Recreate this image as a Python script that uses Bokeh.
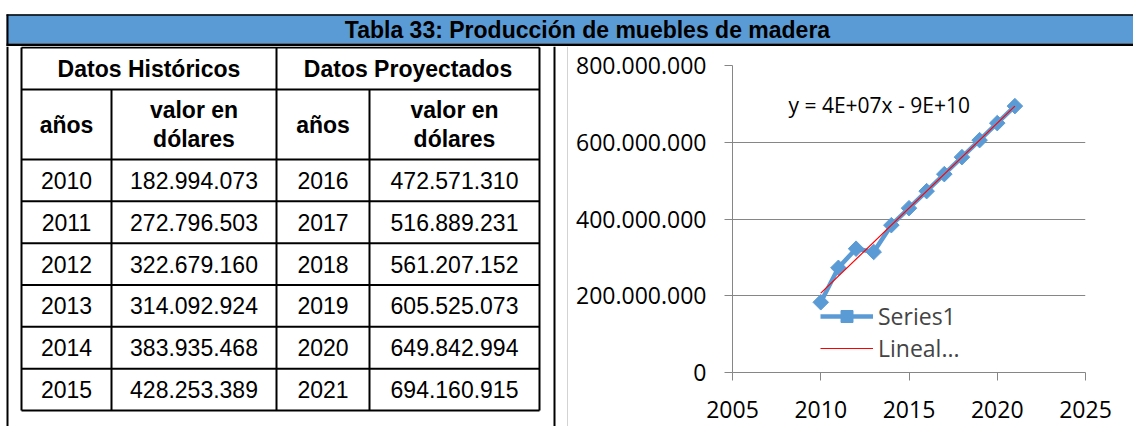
import numpy as np
from bokeh.plotting import figure
from bokeh.layouts import column, row
from bokeh.models import Range1d, FixedTicker, Legend, LegendItem, Label
from bokeh.embed import file_html
from bokeh.resources import INLINE
from bokeh.core.properties import value

# ---------------- data ----------------
TITLE = "Tabla 33: Producción de muebles de madera"
HEADER_GROUPS = ["Datos Históricos", "Datos Proyectados"]
HEADER_COLS = ["años", "valor en\ndólares", "años", "valor en\ndólares"]
HIST_YEARS = [2010, 2011, 2012, 2013, 2014, 2015]
HIST_VALUES = [182994073, 272796503, 322679160, 314092924, 383935468, 428253389]
PROJ_YEARS = [2016, 2017, 2018, 2019, 2020, 2021]
PROJ_VALUES = [472571310, 516889231, 561207152, 605525073, 649842994, 694160915]
X_TICKS = [2005, 2010, 2015, 2020, 2025]
Y_TICKS = [0, 200000000, 400000000, 600000000, 800000000]
Y_TICK_LABELS = ["0", "200.000.000", "400.000.000", "600.000.000", "800.000.000"]
SERIES_NAME = "Series1"
TREND_NAME = "Lineal..."
EQUATION = "y = 4E+07x - 9E+10"

# ---------------- layout / style ----------------
PAGE = 0          # Bokeh's page template has no body margin
W, H = 1133, 426
HEAD_BOTTOM = 46
TABLE_FIG_RIGHT = 568
COL_EDGES = [21, 111, 276, 369, 539]
ROW_TOP, ROW_H1, ROW_H2, ROW_BOTTOM = 47, 89, 159, 410
BLUE = "#5B9BD5"
GRAY = "#868686"
TABLE_FONT = value("Liberation Sans")
FS = "23px"


def fmt(v):
    return f"{v:,}".replace(",", ".")


def no_align(p):
    try:
        p.frame_align = False
    except Exception:
        pass
    return p


def blank(p):
    p.xgrid.visible = False
    p.ygrid.visible = False
    p.background_fill_color = "white"
    p.border_fill_color = "white"
    return no_align(p)


# ---------------- header bar ----------------
hf = blank(figure(width=W - PAGE, height=HEAD_BOTTOM - PAGE,
                  x_range=Range1d(PAGE, W), y_range=Range1d(HEAD_BOTTOM, PAGE),
                  toolbar_location=None, output_backend="svg", min_border=0,
                  x_axis_type=None, y_axis_type=None, outline_line_color=None))
hf.quad(left=6, right=W + 10, top=14, bottom=43, fill_color=BLUE, line_color=None)
hf.quad(left=6, right=W + 10, top=43, bottom=46, fill_color="black", line_color=None)
hf.segment(x0=6, y0=14.5, x1=W + 10, y1=14.5, line_color="black", line_width=1.5)
hf.segment(x0=7, y0=14, x1=7, y1=46, line_color="black", line_width=2)
hf.text(x=[587], y=[29], text=[TITLE], text_font=TABLE_FONT, text_font_style="bold",
        text_font_size=FS, text_align="center", text_baseline="middle", text_color="black")

# ---------------- table ----------------
tf = blank(figure(width=TABLE_FIG_RIGHT - PAGE, height=H - HEAD_BOTTOM,
                  x_range=Range1d(PAGE, TABLE_FIG_RIGHT), y_range=Range1d(H, HEAD_BOTTOM),
                  toolbar_location=None, output_backend="svg", min_border=0,
                  x_axis_type=None, y_axis_type=None, outline_line_color=None))
n_rows = len(HIST_YEARS)
row_h = (ROW_BOTTOM - ROW_H2) / n_rows
row_edges = [ROW_TOP, ROW_H1, ROW_H2] + [ROW_H2 + (i + 1) * row_h for i in range(n_rows)]
tf.segment(x0=[COL_EDGES[0]] * len(row_edges), x1=[COL_EDGES[-1]] * len(row_edges),
           y0=row_edges, y1=row_edges, line_color="black", line_width=2)
full_cols = [COL_EDGES[0], COL_EDGES[2], COL_EDGES[4]]
tf.segment(x0=full_cols, x1=full_cols, y0=[ROW_TOP] * 3, y1=[ROW_BOTTOM] * 3,
           line_color="black", line_width=2)
part_cols = [COL_EDGES[1], COL_EDGES[3]]
tf.segment(x0=part_cols, x1=part_cols, y0=[ROW_H1] * 2, y1=[ROW_BOTTOM] * 2,
           line_color="black", line_width=2)
# outer frame lines
tf.segment(x0=[7, 554], x1=[7, 554], y0=[HEAD_BOTTOM] * 2, y1=[H] * 2,
           line_color="black", line_width=2)
tf.segment(x0=[567.5], x1=[567.5], y0=[HEAD_BOTTOM], y1=[H], line_color="#A6A6A6", line_width=1)

col_c = [(COL_EDGES[i] + COL_EDGES[i + 1]) / 2 for i in range(4)]
tf.text(x=[(COL_EDGES[0] + COL_EDGES[2]) / 2, (COL_EDGES[2] + COL_EDGES[4]) / 2],
        y=[(ROW_TOP + ROW_H1) / 2] * 2, text=HEADER_GROUPS, text_font=TABLE_FONT,
        text_font_style="bold", text_font_size=FS, text_align="center", text_baseline="middle")
tf.text(x=col_c, y=[(ROW_H1 + ROW_H2) / 2] * 4, text=HEADER_COLS, text_font=TABLE_FONT,
        text_font_style="bold", text_font_size=FS, text_align="center", text_baseline="middle",
        text_line_height=1.15)
row_c = [(row_edges[i + 2] + row_edges[i + 3]) / 2 for i in range(n_rows)]
for ci, col in enumerate([[str(y) for y in HIST_YEARS], [fmt(v) for v in HIST_VALUES],
                          [str(y) for y in PROJ_YEARS], [fmt(v) for v in PROJ_VALUES]]):
    tf.text(x=[col_c[ci]] * n_rows, y=row_c, text=col, text_font=TABLE_FONT,
            text_font_size=FS, text_align="center", text_baseline="middle", text_color="black")

# ---------------- chart ----------------
cf = figure(width=W - TABLE_FIG_RIGHT, height=H - HEAD_BOTTOM,
            x_range=Range1d(X_TICKS[0], X_TICKS[-1]), y_range=Range1d(Y_TICKS[0], Y_TICKS[-1]),
            toolbar_location=None, output_backend="svg",
            min_border_left=732 - TABLE_FIG_RIGHT, min_border_right=W - 1085,
            min_border_top=65 - HEAD_BOTTOM, min_border_bottom=H - 372,
            outline_line_color=None)
no_align(cf)
cf.background_fill_color = "white"
cf.border_fill_color = "white"
cf.xgrid.visible = False
cf.ygrid.grid_line_color = GRAY
cf.ygrid.ticker = FixedTicker(ticks=Y_TICKS)
cf.xaxis.ticker = FixedTicker(ticks=X_TICKS)
cf.yaxis.ticker = FixedTicker(ticks=Y_TICKS)
cf.yaxis.major_label_overrides = {t: l for t, l in zip(Y_TICKS, Y_TICK_LABELS)}
for ax in (cf.xaxis, cf.yaxis):
    ax.axis_line_color = GRAY
    ax.major_tick_line_color = GRAY
    ax.major_tick_out = 8
    ax.major_tick_in = 0
    ax.minor_tick_line_color = None
    ax.major_label_text_font = "Open Sans"
    ax.major_label_text_font_size = FS
    ax.major_label_text_color = "black"
cf.yaxis.major_label_standoff = 18
cf.xaxis.major_label_standoff = 20

years = HIST_YEARS + PROJ_YEARS
vals = HIST_VALUES + PROJ_VALUES
ln = cf.line(years, vals, line_color=BLUE, line_width=4.5)
sc = cf.scatter(years, vals, marker="square", angle=np.pi / 4, size=11,
                fill_color=BLUE, line_color=BLUE)
fit = np.polyfit(years, vals, 1)
tx = [min(years), max(years)]
tr = cf.line(tx, list(np.polyval(fit, tx)), line_color="#FF0000", line_width=1.2)

cf.add_layout(Label(x=2008.17, y=696e6, text=EQUATION, text_font="Open Sans",
                    text_font_size="21px", text_baseline="middle", text_color="black"))

legend = Legend(items=[LegendItem(label=SERIES_NAME, renderers=[ln, sc]),
                       LegendItem(label=TREND_NAME, renderers=[tr])],
                location=(88, 8), padding=0, margin=0, spacing=0,
                glyph_width=53, glyph_height=30, label_height=30, label_standoff=5,
                label_text_font="Open Sans", label_text_font_size=FS,
                border_line_color=None, background_fill_alpha=0)
cf.add_layout(legend)

layout = column(hf, row(tf, cf))
open("out.html", "w").write(file_html(layout, INLINE))
